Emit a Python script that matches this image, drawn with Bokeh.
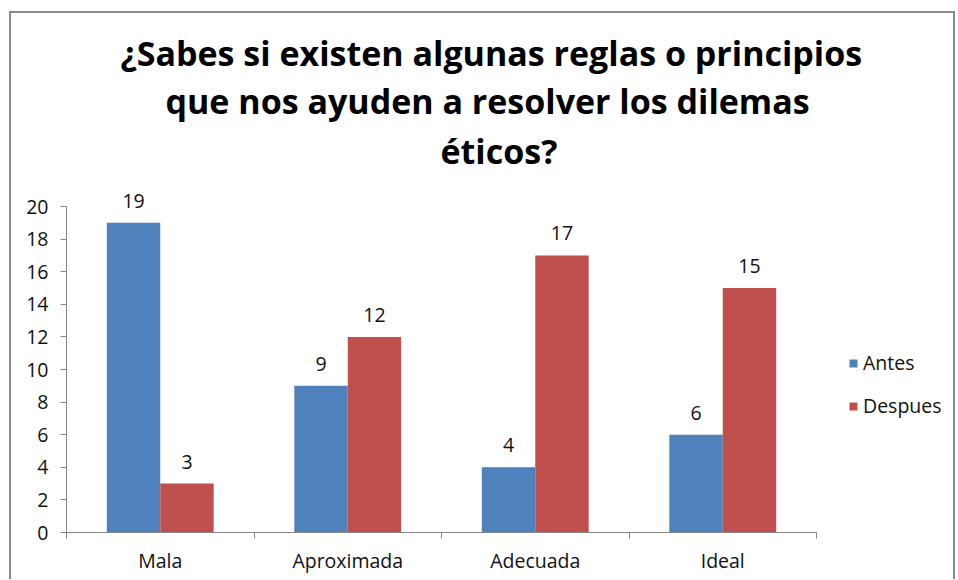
from bokeh.plotting import figure
from bokeh.models import (ColumnDataSource, Range1d, LinearAxis, FixedTicker, Title,
                          Legend, LegendItem)
from bokeh.transform import dodge
from bokeh.core.properties import value
from bokeh.embed import file_html
from bokeh.resources import INLINE

categories = ["Mala", "Aproximada", "Adecuada", "Ideal"]
antes = [19, 9, 4, 6]
despues = [3, 12, 17, 15]
series_names = ["Antes", "Despues"]
title_lines = ["¿Sabes si existen algunas reglas o principios",
               "que nos ayuden a resolver los dilemas",
               "éticos?"]
y_ticks = list(range(0, 21, 2))

FONT = "Open Sans"
TXT = "#111111"
BLUE = "#4F81BD"
RED = "#C0504D"
AX = "#868686"
BORDER = "#8a8a8a"

centers = [i + 0.5 for i in range(len(categories))]
src = ColumnDataSource(dict(x=centers, antes=antes, despues=despues,
                            antes_t=[str(v) for v in antes],
                            despues_t=[str(v) for v in despues]))

W, H = 957, 579
p = figure(width=W, height=H, output_backend="svg", toolbar_location=None,
           x_range=Range1d(0, 4.752), y_range=Range1d(0, 21.6),
           x_axis_type=None, y_axis_type=None,
           min_border_left=66, min_border_right=0, min_border_top=180, min_border_bottom=47)
g = f"linear-gradient({BORDER},{BORDER})"
p.styles = {
    "background-image": ", ".join([g, g, g]),
    "background-size": "946px 2px, 2px 570px, 2px 570px",
    "background-position": "9px 11px, 9px 11px, 953px 11px",
    "background-repeat": "no-repeat",
}
p.border_fill_color = None
p.background_fill_color = None
p.outline_line_color = None
p.xgrid.visible = False
p.ygrid.visible = False

# title lines (figure title is outermost; added titles stack outward from the frame)
p.title.text = title_lines[0]
t3 = Title(text=title_lines[2])
t2 = Title(text=title_lines[1])
for t, off, so in [(p.title, 54, 0), (t2, 99, 0), (t3, 374, 9)]:
    t.align = "left"
    t.offset = off
    t.standoff = so
    t.text_font = FONT
    t.text_font_size = "34px"
    t.text_font_style = "bold"
    t.text_color = "#000000"
t3.vertical_align = "top"
p.add_layout(t3, "above")
p.add_layout(t2, "above")

w = 0.285
r1 = p.vbar(x=dodge("x", -w / 2, range=p.x_range), top="antes", width=w, source=src,
            fill_color=BLUE, line_color=None)
r2 = p.vbar(x=dodge("x", w / 2, range=p.x_range), top="despues", width=w, source=src,
            fill_color=RED, line_color=None)
for col, off in [("antes", -w / 2), ("despues", w / 2)]:
    p.text(x=dodge("x", off, range=p.x_range), y=col, text=col + "_t", source=src,
           text_align="center", text_baseline="bottom", y_offset=-15,
           text_font=value(FONT), text_font_size="19.5px", text_color=TXT)

yax = LinearAxis(ticker=FixedTicker(ticks=y_ticks, minor_ticks=[]), bounds=(0, 20))
yax.axis_line_color = AX
yax.major_tick_line_color = AX
yax.major_tick_out = 6
yax.major_tick_in = 0
yax.minor_tick_line_color = None
yax.major_label_standoff = 12
yax.major_label_text_font = FONT
yax.major_label_text_font_size = "19.5px"
yax.major_label_text_color = TXT
p.add_layout(yax, "left")

xax = LinearAxis(ticker=FixedTicker(ticks=centers, minor_ticks=list(range(len(categories) + 1))),
                 bounds=(0, len(categories)))
xax.major_label_overrides = {c: name for c, name in zip(centers, categories)}
xax.axis_line_color = AX
xax.major_tick_line_color = None
xax.major_tick_out = 0
xax.major_tick_in = 0
xax.minor_tick_line_color = AX
xax.minor_tick_out = 6
xax.minor_tick_in = 0
xax.major_label_standoff = 8
xax.major_label_text_font = FONT
xax.major_label_text_font_size = "19.5px"
xax.major_label_text_color = TXT
p.add_layout(xax, "below")

legend = Legend(items=[LegendItem(label=series_names[0], renderers=[r1]),
                       LegendItem(label=series_names[1], renderers=[r2])],
                location=(782, 113), padding=0, margin=0, spacing=16,
                glyph_width=10, glyph_height=10, label_standoff=5,
                label_text_font=FONT, label_text_font_size="19.5px", label_text_color=TXT,
                border_line_color=None, background_fill_alpha=0)
p.add_layout(legend, "center")

open("out.html", "w").write(file_html(p, INLINE))
